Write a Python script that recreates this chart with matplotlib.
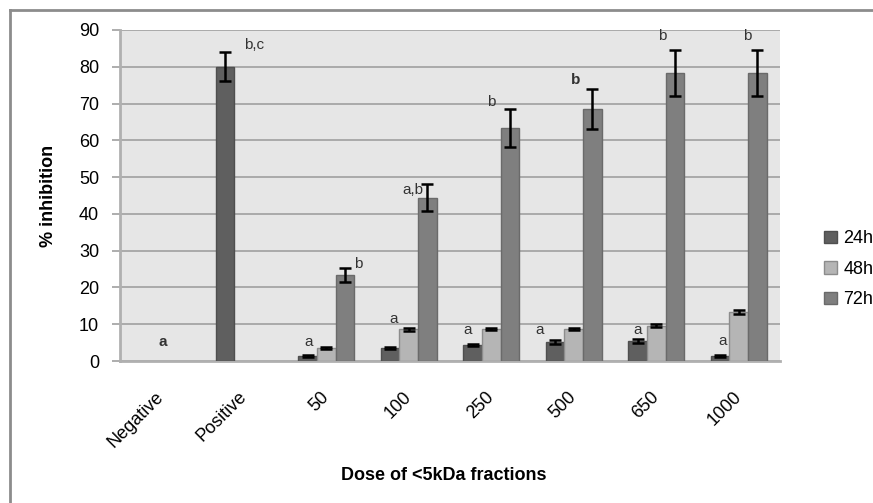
import matplotlib
matplotlib.use("Agg")
import matplotlib.pyplot as plt
import numpy as np
from matplotlib.lines import Line2D

# data
categories = ['Negative', 'Positive', '50', '100', '250', '500', '650', '1000']
series = ['24h', '48h', '72h']
h24 = [0, 80.0, 1.3, 3.5, 4.4, 5.1, 5.5, 1.4]
h24_err = [0, 4.0, 0.2, 0.2, 0.2, 0.5, 0.5, 0.2]
h48 = [0, 0, 3.5, 8.6, 8.6, 8.6, 9.6, 13.4]
h48_err = [0, 0, 0.3, 0.4, 0.3, 0.3, 0.4, 0.6]
h72 = [0, 0, 23.4, 44.4, 63.4, 68.5, 78.3, 78.3]
h72_err = [0, 0, 2.0, 3.6, 5.2, 5.4, 6.2, 6.2]

# significance letters: text, category, value height
letter_text = ['a', 'b,c', 'a', 'b', 'a', 'a,b', 'a', 'b', 'a', 'b', 'a', 'b', 'a', 'b']
letter_cat = [0, 1, 2, 2, 3, 3, 4, 4, 5, 5, 6, 6, 7, 7]
letter_y = [5.2, 86, 5.2, 26.4, 11.3, 46.5, 8.4, 70.5, 8.4, 76.4, 8.4, 88.3, 5.5, 88.3]
# horizontal nudges (category units) and weights for the letters
letter_dx = [0.02, 0.13, -0.21, 0.385, -0.18, 0.05, -0.29, 0.0, -0.41, 0.02, -0.23, 0.07, -0.19, 0.1]
letter_bold = [True, False, False, False, False, False, False, False, False, True, False, False, False, False]

plt.rcParams['font.family'] = ['Liberation Sans', 'DejaVu Sans']

face = ['#5f5f5f', '#b5b5b5', '#7f7f7f']
edge = ['#4f4f4f', '#8c8c8c', '#6a6a6a']

fig = plt.figure(figsize=(8.73, 5.03), dpi=100, facecolor='white')
ax = fig.add_axes([120/873, 1-361/503, 660/873, 331/503])
ax.set_facecolor('#e6e6e6')

x = np.arange(len(categories))
w = 0.225
vals = [h24, h48, h72]
errs = [h24_err, h48_err, h72_err]
handles = []
for k in range(3):
    v = np.array(vals[k])
    e = np.array(errs[k])
    keep = v > 0
    xs = x[keep] + (k - 1) * w
    b = ax.bar(xs, v[keep], w, color=face[k], edgecolor=edge[k], linewidth=1, zorder=3, label=series[k])
    ax.errorbar(xs, v[keep], yerr=e[keep], fmt='none', ecolor='black',
                elinewidth=1.8, capsize=4, capthick=1.8, zorder=4)
    handles.append(b)

for t, c, dx, y, bd in zip(letter_text, letter_cat, letter_dx, letter_y, letter_bold):
    ax.text(c + dx, y, t, ha='center', va='center', fontsize=11, color='#333333',
            fontweight='bold' if bd else 'normal', zorder=5)

ax.set_xlim(-0.5, len(categories) - 0.5)
ax.set_ylim(0, 90)
ax.set_yticks(np.arange(0, 91, 10))
ax.yaxis.grid(True, color='#a0a0a0', linewidth=1.2, zorder=0)
ax.set_axisbelow(True)
for s in ['top', 'right']:
    ax.spines[s].set_visible(False)
ax.spines['left'].set_color('#b0b0b0')
ax.spines['bottom'].set_color('#b0b0b0')
ax.spines['left'].set_linewidth(2)
ax.spines['bottom'].set_linewidth(2)
ax.tick_params(axis='y', length=6, color='#a0a0a0', width=1.2, labelsize=13, pad=9)
ax.tick_params(axis='x', length=0, labelsize=13, pad=24)
ax.set_xticks(x)
ax.set_xticklabels(categories, rotation=45, ha='right', va='center', rotation_mode='anchor')

ax.set_ylabel('% inhibition', fontsize=13, fontweight='bold', labelpad=16)
fig.text(444/873, 1-475/503, 'Dose of <5kDa fractions', ha='center', va='center',
         fontsize=13, fontweight='bold')

leg = ax.legend(handles=handles, loc='upper left', bbox_to_anchor=(808/873, 1-214/503),
                bbox_transform=fig.transFigure, frameon=False, fontsize=13,
                handlelength=0.7, handleheight=0.7, handletextpad=0.35, labelspacing=0.75)

# outer chart border
fig.add_artist(Line2D([10/873, 1], [1-10/503, 1-10/503], color='#8c8c8c', lw=2))
fig.add_artist(Line2D([10/873, 10/873], [0, 1-10/503], color='#8c8c8c', lw=2))

fig.savefig('out.png', dpi=100)
